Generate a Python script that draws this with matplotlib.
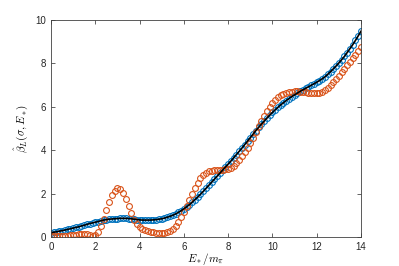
"""
Reconstruction check: beta_L(sigma, E*) vs E*/m_pi.

Black line = exact, blue circles = reconstruction, orange circles = smeared.
Values read off the reference figure on a 0.125 grid in E*/m_pi.
"""

import matplotlib
matplotlib.use("Agg")
import matplotlib.pyplot as plt
import numpy as np


E_MIN, E_MAX = 0.0, 14.0
N_PTS = 113   # 0.125 spacing

BLUE   = "#0072BD"
ORANGE = "#D95319"

# exact curve / blue reconstruction (same values to plot precision)
beta_exact = [
    0.20, 0.22, 0.24, 0.27, 0.29, 0.32, 0.35, 0.38, 0.41, 0.44,
    0.47, 0.51, 0.54, 0.58, 0.62, 0.65, 0.68, 0.71, 0.75, 0.78,
    0.80, 0.82, 0.83, 0.84, 0.85, 0.86, 0.86, 0.86, 0.85, 0.84,
    0.82, 0.80, 0.79, 0.78, 0.78, 0.78, 0.78, 0.79, 0.80, 0.82,
    0.84, 0.87, 0.91, 0.95, 1.00, 1.06, 1.13, 1.21, 1.30, 1.39,
    1.49, 1.60, 1.72, 1.84, 1.97, 2.10, 2.24, 2.38, 2.52, 2.66,
    2.80, 2.94, 3.08, 3.22, 3.36, 3.50, 3.65, 3.80, 3.95, 4.10,
    4.26, 4.42, 4.58, 4.74, 4.90, 5.05, 5.20, 5.34, 5.48, 5.61,
    5.74, 5.86, 5.98, 6.09, 6.19, 6.29, 6.38, 6.47, 6.55, 6.63,
    6.71, 6.78, 6.85, 6.92, 6.99, 7.06, 7.13, 7.21, 7.29, 7.38,
    7.50, 7.62, 7.75, 7.88, 8.02, 8.17, 8.32, 8.50, 8.68, 8.86,
    9.06, 9.27, 9.48,
]

# smeared curve (orange)
beta_smeared = [
    0.05, 0.05, 0.04, 0.04, 0.05, 0.05, 0.06, 0.07, 0.08, 0.10,
    0.12, 0.14, 0.14, 0.12, 0.08, 0.06, 0.10, 0.25, 0.50, 0.85,
    1.25, 1.62, 1.93, 2.13, 2.24, 2.20, 2.02, 1.74, 1.42, 1.10,
    0.80, 0.58, 0.44, 0.36, 0.30, 0.26, 0.23, 0.21, 0.20, 0.19,
    0.19, 0.20, 0.23, 0.29, 0.38, 0.50, 0.68, 0.90, 1.15, 1.43,
    1.71, 1.98, 2.25, 2.50, 2.70, 2.85, 2.95, 3.02, 3.06, 3.08,
    3.09, 3.10, 3.10, 3.12, 3.15, 3.20, 3.28, 3.40, 3.55, 3.72,
    3.90, 4.10, 4.33, 4.58, 4.85, 5.10, 5.35, 5.58, 5.80, 6.00,
    6.18, 6.32, 6.44, 6.53, 6.60, 6.65, 6.68, 6.70, 6.71, 6.71,
    6.70, 6.69, 6.67, 6.65, 6.63, 6.62, 6.62, 6.64, 6.69, 6.77,
    6.87, 6.99, 7.13, 7.28, 7.44, 7.60, 7.76, 7.92, 8.08, 8.24,
    8.40, 8.57, 8.75,
]

x_ticks = [0, 2, 4, 6, 8, 10, 12, 14]
y_ticks = [0, 2, 4, 6, 8, 10]


def main() -> None:
    plt.rcParams["mathtext.fontset"] = "cm"
    plt.rcParams["font.family"] = ["Liberation Sans", "DejaVu Sans"]

    e = np.linspace(E_MIN, E_MAX, N_PTS)

    fig = plt.figure(figsize=(3.99, 2.66), dpi=100)
    ax = fig.add_axes([51 / 399, 29 / 266, 310 / 399, 217 / 266])

    ax.plot(e, beta_exact, "o", ms=4.2, mfc="none", mec=BLUE, mew=0.8)
    ax.plot(e, beta_smeared, "o", ms=4.2, mfc="none", mec=ORANGE, mew=0.8)
    ax.plot(e, beta_exact, "-", color="black", lw=1.2)

    ax.set_xlim(E_MIN, E_MAX)
    ax.set_ylim(0, 10)
    ax.set_xticks(x_ticks)
    ax.set_yticks(y_ticks)
    ax.tick_params(direction="in", length=3, width=0.5, colors="#262626",
                   labelsize=7, top=True, right=True, pad=3.5)
    for s in ax.spines.values():
        s.set_linewidth(0.6)
        s.set_color("#404040")

    ax.set_xlabel(r"$E_*/m_\pi$", fontsize=8, labelpad=-0.5)
    ax.set_ylabel(r"$\hat{\beta}_L(\sigma,E_*)$", fontsize=8, labelpad=4)

    fig.savefig("out.png", dpi=100)


if __name__ == "__main__":
    main()
